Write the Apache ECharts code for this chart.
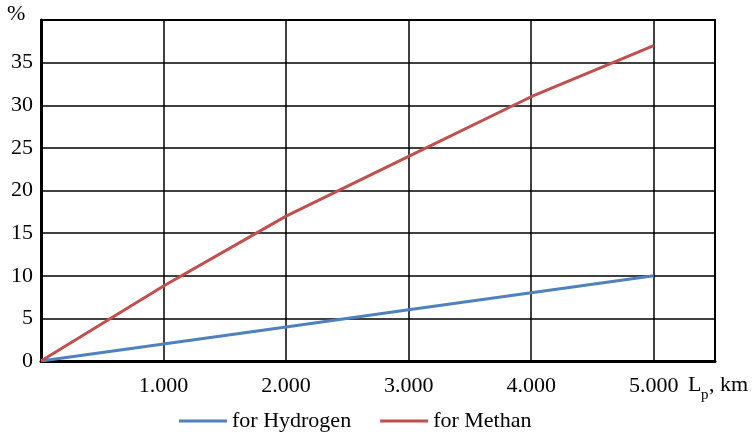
<!DOCTYPE html>
<html>
<head>
<meta charset="utf-8">
<script src="https://cdn.jsdelivr.net/npm/echarts@6/dist/echarts.min.js"></script>
<style>
  html, body { margin: 0; padding: 0; background: #fff; }
  #chart { width: 756px; height: 434px; }
</style>
</head>
<body>
<div id="chart"></div>
<script>
// Pipeline length, m
const distances = [0, 1000, 2000, 3000, 4000, 5000];
// Share of losses, %
const hydrogen = [0, 2, 4, 6, 8, 10];
const methan = [0, 8.8, 17, 24, 31, 37];
const seriesNames = ['for Hydrogen', 'for Methan'];
const colors = ['#4F81BD', '#C0504D'];

const FONT = '"Liberation Serif", "Times New Roman", serif';

const toPairs = (xs, ys) => xs.map((x, i) => [x, ys[i]]);

const chart = echarts.init(document.getElementById('chart'), null, { renderer: 'canvas' });

chart.setOption({
  animation: false,
  backgroundColor: '#fff',
  grid: {
    left: 41, top: 20, right: 41, bottom: 73,
    show: true, borderColor: '#000', borderWidth: 2
  },
  xAxis: {
    type: 'value', min: 0, max: 5500, interval: 1000,
    axisLine: { show: true, onZero: false, lineStyle: { color: '#000', width: 3 } },
    axisTick: { show: false },
    splitLine: { show: true, lineStyle: { color: '#000', width: 1.5 } },
    axisLabel: {
      color: '#000', fontFamily: FONT, fontSize: 22, margin: 14,
      formatter: v => (v > 0 && v <= 5000 && v % 1000 === 0) ? (v / 1000) + '.000' : ''
    }
  },
  yAxis: {
    type: 'value', min: 0, max: 40, interval: 5,
    axisLine: { show: true, lineStyle: { color: '#000', width: 3 } },
    axisTick: { show: false },
    splitLine: { show: true, lineStyle: { color: '#000', width: 1.5 } },
    axisLabel: {
      color: '#000', fontFamily: FONT, fontSize: 22, margin: 8,
      formatter: v => v < 40 ? String(v) : ''
    }
  },
  legend: {
    top: 405, left: 174,
    icon: 'rect', itemWidth: 48, itemHeight: 3, itemGap: 29,
    textStyle: { color: '#000', fontFamily: FONT, fontSize: 22 },
    data: seriesNames
  },
  graphic: [
    { type: 'text', left: 7, top: 3, style: { text: '%', fill: '#000', font: '22px ' + FONT } },
    { type: 'text', left: 688, top: 374, style: { text: 'L', fill: '#000', font: '22px ' + FONT } },
    { type: 'text', left: 701, top: 388, style: { text: 'p', fill: '#000', font: '15px ' + FONT } },
    { type: 'text', left: 709, top: 374, style: { text: ', km', fill: '#000', font: '22px ' + FONT } }
  ],
  series: [
    {
      name: seriesNames[0], type: 'line', data: toPairs(distances, hydrogen),
      symbol: 'none', lineStyle: { color: colors[0], width: 3 }, itemStyle: { color: colors[0] }
    },
    {
      name: seriesNames[1], type: 'line', data: toPairs(distances, methan),
      symbol: 'none', lineStyle: { color: colors[1], width: 3 }, itemStyle: { color: colors[1] }
    }
  ]
});
</script>
</body>
</html>
